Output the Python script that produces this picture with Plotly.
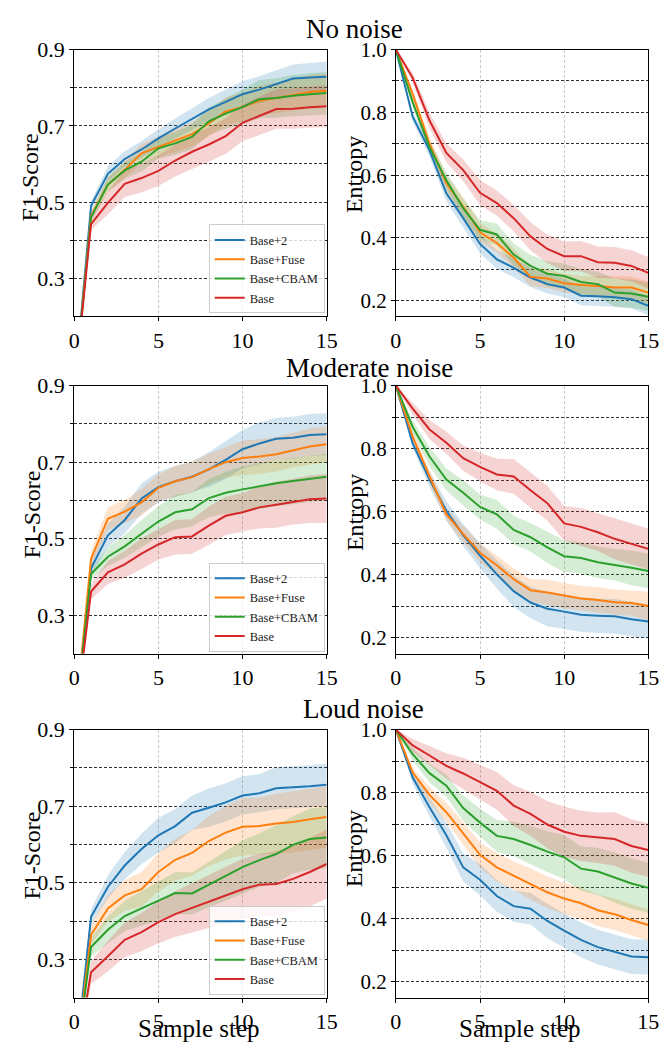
import plotly.graph_objects as go

steps = list(range(16))
series_names = ["Base+2", "Base+Fuse", "Base+CBAM", "Base"]
colors = ["#1f77b4", "#ff7f0e", "#2ca02c", "#d62728"]
fills = ["rgba(31,119,180,0.2)", "rgba(255,127,14,0.2)", "rgba(44,160,44,0.2)", "rgba(214,39,40,0.2)"]
row_titles = ["No noise", "Moderate noise", "Loud noise"]

# ---- No noise ----
f1_none_base2 = [0, 0.49, 0.574, 0.613, 0.638, 0.667, 0.693, 0.718, 0.743, 0.763, 0.783, 0.795, 0.809, 0.824, 0.827, 0.829]
f1_none_fuse = [0, 0.464, 0.546, 0.585, 0.628, 0.645, 0.661, 0.678, 0.706, 0.738, 0.749, 0.766, 0.773, 0.782, 0.789, 0.792]
f1_none_cbam = [0, 0.46, 0.546, 0.583, 0.606, 0.641, 0.654, 0.671, 0.712, 0.732, 0.749, 0.77, 0.773, 0.779, 0.783, 0.786]
f1_none_base = [0, 0.442, 0.498, 0.548, 0.563, 0.582, 0.609, 0.632, 0.651, 0.673, 0.708, 0.725, 0.744, 0.745, 0.749, 0.751]
sd_f1_none_base2 = [0, 0.012, 0.02, 0.02, 0.022, 0.024, 0.026, 0.028, 0.03, 0.032, 0.034, 0.035, 0.036, 0.037, 0.038, 0.04]
sd_f1_none_fuse = [0, 0.012, 0.02, 0.022, 0.025, 0.028, 0.03, 0.032, 0.034, 0.036, 0.038, 0.04, 0.04, 0.042, 0.044, 0.045]
sd_f1_none_cbam = [0, 0.012, 0.018, 0.022, 0.025, 0.028, 0.03, 0.033, 0.036, 0.04, 0.045, 0.05, 0.052, 0.054, 0.055, 0.056]
sd_f1_none_base = [0, 0.015, 0.03, 0.035, 0.038, 0.04, 0.042, 0.044, 0.045, 0.047, 0.048, 0.05, 0.052, 0.053, 0.054, 0.055]

ent_none_base2 = [1.0, 0.786, 0.679, 0.542, 0.463, 0.381, 0.332, 0.305, 0.274, 0.253, 0.242, 0.216, 0.214, 0.211, 0.205, 0.184]
ent_none_fuse = [1.0, 0.858, 0.70, 0.574, 0.50, 0.418, 0.384, 0.337, 0.276, 0.271, 0.256, 0.25, 0.247, 0.242, 0.242, 0.226]
ent_none_cbam = [1.0, 0.832, 0.689, 0.584, 0.495, 0.426, 0.411, 0.347, 0.311, 0.286, 0.279, 0.26, 0.253, 0.226, 0.223, 0.213]
ent_none_base = [1.0, 0.91, 0.774, 0.671, 0.616, 0.544, 0.511, 0.463, 0.405, 0.365, 0.342, 0.342, 0.323, 0.321, 0.311, 0.289]
sd_ent_none_base2 = [0, 0.015, 0.02, 0.025, 0.03, 0.03, 0.03, 0.03, 0.03, 0.03, 0.03, 0.03, 0.03, 0.03, 0.03, 0.03]
sd_ent_none_fuse = [0, 0.015, 0.02, 0.025, 0.03, 0.03, 0.03, 0.03, 0.03, 0.03, 0.03, 0.03, 0.032, 0.035, 0.035, 0.035]
sd_ent_none_cbam = [0, 0.015, 0.02, 0.025, 0.03, 0.03, 0.035, 0.035, 0.035, 0.04, 0.04, 0.04, 0.04, 0.045, 0.045, 0.045]
sd_ent_none_base = [0, 0.015, 0.025, 0.03, 0.035, 0.04, 0.04, 0.042, 0.045, 0.045, 0.047, 0.048, 0.05, 0.05, 0.05, 0.05]

# ---- Moderate noise ----
f1_mod_base2 = [0, 0.423, 0.509, 0.549, 0.605, 0.635, 0.65, 0.662, 0.681, 0.706, 0.734, 0.749, 0.761, 0.764, 0.771, 0.773]
f1_mod_fuse = [0, 0.448, 0.552, 0.571, 0.595, 0.633, 0.65, 0.661, 0.682, 0.70, 0.711, 0.715, 0.721, 0.732, 0.741, 0.747]
f1_mod_cbam = [0, 0.408, 0.453, 0.48, 0.513, 0.545, 0.569, 0.577, 0.606, 0.62, 0.629, 0.638, 0.645, 0.651, 0.657, 0.662]
f1_mod_base = [0, 0.362, 0.412, 0.433, 0.461, 0.485, 0.504, 0.506, 0.534, 0.56, 0.569, 0.582, 0.589, 0.597, 0.603, 0.605]
sd_f1_mod_base2 = [0, 0.02, 0.03, 0.035, 0.04, 0.04, 0.04, 0.04, 0.045, 0.05, 0.05, 0.055, 0.055, 0.055, 0.055, 0.055]
sd_f1_mod_fuse = [0, 0.02, 0.03, 0.03, 0.035, 0.035, 0.04, 0.04, 0.04, 0.04, 0.045, 0.045, 0.045, 0.045, 0.047, 0.047]
sd_f1_mod_cbam = [0, 0.015, 0.025, 0.03, 0.035, 0.04, 0.045, 0.045, 0.05, 0.055, 0.06, 0.06, 0.06, 0.06, 0.06, 0.06]
sd_f1_mod_base = [0, 0.02, 0.03, 0.035, 0.04, 0.04, 0.045, 0.045, 0.05, 0.05, 0.05, 0.055, 0.06, 0.06, 0.062, 0.064]

ent_mod_base2 = [1.0, 0.817, 0.702, 0.603, 0.526, 0.461, 0.401, 0.348, 0.312, 0.292, 0.283, 0.273, 0.27, 0.268, 0.259, 0.252]
ent_mod_fuse = [1.0, 0.838, 0.712, 0.592, 0.529, 0.47, 0.43, 0.386, 0.351, 0.344, 0.334, 0.325, 0.32, 0.313, 0.31, 0.301]
ent_mod_cbam = [1.0, 0.869, 0.775, 0.702, 0.66, 0.615, 0.592, 0.542, 0.519, 0.487, 0.459, 0.453, 0.44, 0.432, 0.422, 0.412]
ent_mod_base = [1.0, 0.927, 0.861, 0.819, 0.77, 0.742, 0.718, 0.712, 0.668, 0.627, 0.563, 0.552, 0.535, 0.514, 0.498, 0.482]
sd_ent_mod_base2 = [0, 0.015, 0.025, 0.03, 0.035, 0.04, 0.045, 0.05, 0.05, 0.055, 0.055, 0.055, 0.055, 0.055, 0.055, 0.055]
sd_ent_mod_fuse = [0, 0.015, 0.02, 0.02, 0.025, 0.03, 0.03, 0.035, 0.035, 0.04, 0.04, 0.04, 0.04, 0.04, 0.04, 0.045]
sd_ent_mod_cbam = [0, 0.02, 0.03, 0.035, 0.04, 0.04, 0.045, 0.045, 0.045, 0.05, 0.05, 0.05, 0.05, 0.05, 0.055, 0.055]
sd_ent_mod_base = [0, 0.02, 0.03, 0.035, 0.04, 0.045, 0.05, 0.055, 0.055, 0.055, 0.055, 0.06, 0.06, 0.065, 0.065, 0.065]

# ---- Loud noise ----
f1_loud_base2 = [0, 0.411, 0.489, 0.545, 0.588, 0.624, 0.648, 0.683, 0.696, 0.71, 0.728, 0.734, 0.747, 0.749, 0.752, 0.756]
f1_loud_fuse = [0, 0.364, 0.433, 0.467, 0.483, 0.528, 0.56, 0.578, 0.609, 0.631, 0.646, 0.648, 0.655, 0.659, 0.666, 0.672]
f1_loud_cbam = [0, 0.332, 0.377, 0.413, 0.433, 0.452, 0.473, 0.472, 0.495, 0.519, 0.541, 0.559, 0.575, 0.599, 0.614, 0.618]
f1_loud_base = [0, 0.266, 0.308, 0.351, 0.371, 0.397, 0.418, 0.434, 0.452, 0.467, 0.483, 0.495, 0.497, 0.51, 0.528, 0.549]
sd_f1_loud_base2 = [0, 0.02, 0.03, 0.035, 0.04, 0.045, 0.045, 0.045, 0.05, 0.05, 0.05, 0.05, 0.055, 0.055, 0.055, 0.055]
sd_f1_loud_fuse = [0, 0.025, 0.035, 0.04, 0.045, 0.05, 0.055, 0.06, 0.065, 0.07, 0.075, 0.075, 0.078, 0.08, 0.08, 0.08]
sd_f1_loud_cbam = [0, 0.025, 0.035, 0.04, 0.045, 0.05, 0.055, 0.055, 0.06, 0.065, 0.07, 0.07, 0.075, 0.075, 0.08, 0.08]
sd_f1_loud_base = [0, 0.03, 0.04, 0.045, 0.05, 0.055, 0.06, 0.065, 0.07, 0.075, 0.08, 0.08, 0.085, 0.085, 0.09, 0.09]

ent_loud_base2 = [1.0, 0.848, 0.754, 0.665, 0.563, 0.524, 0.472, 0.44, 0.432, 0.393, 0.362, 0.333, 0.31, 0.294, 0.28, 0.278]
ent_loud_fuse = [1.0, 0.864, 0.793, 0.738, 0.671, 0.603, 0.563, 0.537, 0.51, 0.484, 0.464, 0.449, 0.427, 0.414, 0.396, 0.38]
ent_loud_cbam = [1.0, 0.922, 0.862, 0.822, 0.751, 0.705, 0.663, 0.653, 0.634, 0.613, 0.595, 0.559, 0.55, 0.531, 0.512, 0.498]
ent_loud_base = [1.0, 0.95, 0.918, 0.885, 0.861, 0.833, 0.806, 0.759, 0.733, 0.699, 0.676, 0.663, 0.657, 0.653, 0.631, 0.618]
sd_ent_loud_base2 = [0, 0.02, 0.03, 0.04, 0.045, 0.05, 0.05, 0.05, 0.05, 0.055, 0.055, 0.055, 0.055, 0.055, 0.055, 0.055]
sd_ent_loud_fuse = [0, 0.015, 0.025, 0.03, 0.035, 0.04, 0.045, 0.045, 0.05, 0.05, 0.05, 0.05, 0.05, 0.05, 0.05, 0.05]
sd_ent_loud_cbam = [0, 0.02, 0.03, 0.035, 0.04, 0.045, 0.05, 0.055, 0.06, 0.065, 0.07, 0.07, 0.075, 0.08, 0.08, 0.08]
sd_ent_loud_base = [0, 0.02, 0.03, 0.04, 0.05, 0.055, 0.06, 0.065, 0.07, 0.075, 0.08, 0.08, 0.08, 0.085, 0.085, 0.085]

panels = [
    ([f1_none_base2, f1_none_fuse, f1_none_cbam, f1_none_base],
     [sd_f1_none_base2, sd_f1_none_fuse, sd_f1_none_cbam, sd_f1_none_base]),
    ([ent_none_base2, ent_none_fuse, ent_none_cbam, ent_none_base],
     [sd_ent_none_base2, sd_ent_none_fuse, sd_ent_none_cbam, sd_ent_none_base]),
    ([f1_mod_base2, f1_mod_fuse, f1_mod_cbam, f1_mod_base],
     [sd_f1_mod_base2, sd_f1_mod_fuse, sd_f1_mod_cbam, sd_f1_mod_base]),
    ([ent_mod_base2, ent_mod_fuse, ent_mod_cbam, ent_mod_base],
     [sd_ent_mod_base2, sd_ent_mod_fuse, sd_ent_mod_cbam, sd_ent_mod_base]),
    ([f1_loud_base2, f1_loud_fuse, f1_loud_cbam, f1_loud_base],
     [sd_f1_loud_base2, sd_f1_loud_fuse, sd_f1_loud_cbam, sd_f1_loud_base]),
    ([ent_loud_base2, ent_loud_fuse, ent_loud_cbam, ent_loud_base],
     [sd_ent_loud_base2, sd_ent_loud_fuse, sd_ent_loud_cbam, sd_ent_loud_base]),
]

W, H = 671, 1044
FONT = "Liberation Serif, Times New Roman, serif"
x_px = [(70, 329), (400, 659)]
y_px = [(38, 308), (378, 649), (726, 997)]

fig = go.Figure()
layout = {}

for p, (means, sds) in enumerate(panels):
    r, c = p // 2, p % 2
    n = p + 1
    xa = "x" if n == 1 else f"x{n}"
    ya = "y" if n == 1 else f"y{n}"
    legend_id = "legend" if r == 0 else f"legend{r + 1}"

    # shaded bands first, then the mean lines
    for k in range(4):
        up = [m + s for m, s in zip(means[k], sds[k])]
        lo = [m - s for m, s in zip(means[k], sds[k])]
        fig.add_trace(go.Scatter(
            x=steps + steps[::-1], y=up + lo[::-1],
            fill="toself", fillcolor=fills[k], line=dict(width=0),
            hoverinfo="skip", showlegend=False, xaxis=xa, yaxis=ya))
    for k in range(4):
        fig.add_trace(go.Scatter(
            x=steps, y=means[k], mode="lines", name=series_names[k],
            line=dict(color=colors[k], width=2),
            showlegend=(c == 0), legend=legend_id, xaxis=xa, yaxis=ya))

    x0, x1 = x_px[c]
    y0, y1 = y_px[r]
    xkey = "xaxis" if n == 1 else f"xaxis{n}"
    ykey = "yaxis" if n == 1 else f"yaxis{n}"
    layout[xkey] = dict(
        domain=[x0 / W, x1 / W], anchor=ya, range=[0, 15],
        tickvals=[0, 5, 10, 15], ticks="outside", ticklen=4, tickcolor="black",
        showline=True, mirror=True, linecolor="black", linewidth=1,
        showgrid=True, gridcolor="#c8c8c8", griddash="3px,2px", gridwidth=0.8,
        zeroline=False, tickfont=dict(family=FONT, size=22, color="black"))
    if c == 0:
        yrange = [0.2, 0.9]
        major = [0.3, 0.5, 0.7, 0.9]
        minor = [0.4, 0.6, 0.8]
        labels = ["0.3", "0.5", "0.7", "0.9"]
    else:
        yrange = [0.15, 1.0]
        major = [0.2, 0.4, 0.6, 0.8, 1.0]
        minor = [0.3, 0.5, 0.7, 0.9]
        labels = ["0.2", "0.4", "0.6", "0.8", "1.0"]
    layout[ykey] = dict(
        domain=[1 - y1 / H, 1 - y0 / H], anchor=xa, range=yrange,
        tickvals=major, ticktext=labels, ticks="outside", ticklen=4, tickcolor="black",
        showline=True, mirror=True, linecolor="black", linewidth=1,
        showgrid=True, gridcolor="#333333", griddash="3px,2px", gridwidth=0.8,
        minor=dict(tickvals=minor, ticks="outside", ticklen=3, tickcolor="black",
                   showgrid=True, gridcolor="#333333", griddash="3px,2px", gridwidth=0.8),
        zeroline=False, tickfont=dict(family=FONT, size=22 if c == 0 else 21, color="black"))

# legends inside the left panels
legend_bottoms = [305, 647, 994]
for r in range(3):
    key = "legend" if r == 0 else f"legend{r + 1}"
    layout[key] = dict(
        x=327 / W, y=1 - legend_bottoms[r] / H, xanchor="right", yanchor="bottom",
        bgcolor="rgba(255,255,255,0.8)", bordercolor="#cccccc", borderwidth=1,
        font=dict(family=FONT, size=12.5, color="#222222"), itemwidth=30,
        tracegroupgap=0)

annotations = []
title_pos = [(358, 17), (373, 360), (367, 705)]
for (tx, ty), t in zip(title_pos, row_titles):
    annotations.append(dict(
        text=t, x=tx / W, y=1 - ty / H, xref="paper", yref="paper",
        xanchor="center", yanchor="middle", showarrow=False,
        font=dict(family=FONT, size=27, color="black")))

ylabel_pos = [(25, 167, "F1-Score"), (357, 164, "Entropy"),
              (27, 508, "F1-Score"), (358, 506, "Entropy"),
              (27, 853, "F1-Score"), (357, 846, "Entropy")]
for tx, ty, t in ylabel_pos:
    annotations.append(dict(
        text=t, x=tx / W, y=1 - ty / H, xref="paper", yref="paper",
        xanchor="center", yanchor="middle", textangle=-90, showarrow=False,
        font=dict(family=FONT, size=24, color="black")))

for tx in (198, 527):
    annotations.append(dict(
        text="Sample step", x=tx / W, y=1 - 1028 / H, xref="paper", yref="paper",
        xanchor="center", yanchor="middle", showarrow=False,
        font=dict(family=FONT, size=25, color="black")))

fig.update_layout(
    width=W, height=H, margin=dict(l=0, r=0, t=0, b=0),
    paper_bgcolor="white", plot_bgcolor="white",
    font=dict(family=FONT, color="black"),
    annotations=annotations, **layout)

fig.write_html(
    "out.html",
    config={"displayModeBar": False},
    post_script="document.body.style.margin='0px';"
                "document.documentElement.style.overflow='hidden';")
